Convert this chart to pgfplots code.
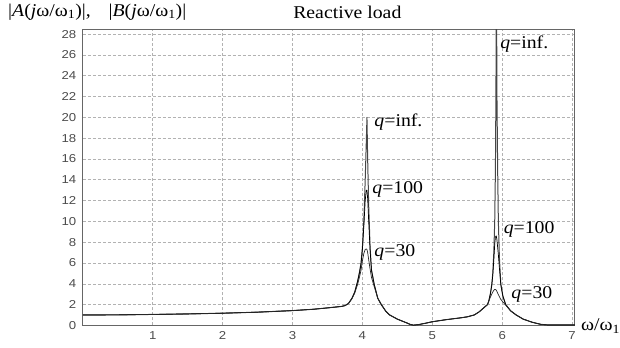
\documentclass[border=0pt]{standalone}
\usepackage{pgfplots}
\pgfplotsset{compat=1.18}
\usetikzlibrary{calc}
\usepackage{fontspec}
\setmainfont{Liberation Serif}[FakeStretch=1.1]
\newfontfamily\ticksf{Liberation Sans}[FakeStretch=1.15]
\begin{document}
\begin{tikzpicture}
\begin{axis}[
 scale only axis, width=493pt, height=296pt,
 xmin=0, xmax=7.04, ymin=0, ymax=28.4,
 xtick={1,2,3,4,5,6,7}, ytick={0,2,...,28},
 grid=major, major grid style={densely dashed, gray!60, line width=0.5pt},
 axis line style={gray!80!black, line width=1pt},
 major tick length=0pt,
 tick label style={font=\ticksf\fontsize{11.5}{12}\selectfont, text=black!70},
 /pgf/number format/assume math mode=true,
 xticklabel style={yshift=-3pt},
 yticklabel style={xshift=-3pt},
 clip mode=individual,
 every axis plot/.append style={line join=round},
]
% q = inf
\addplot[gray!55!black, line width=1pt] coordinates {
(0,1.0) (0.5,1.01) (1.0,1.05) (1.5,1.1) (2.0,1.17) (2.5,1.27) (3.0,1.42) (3.3,1.55)
(3.5,1.68) (3.7,1.82) (3.75,1.9) (3.8,2.1) (3.85,2.6) (3.89,3.2) (3.93,4.2) (3.96,5.2) (3.98,6.0)
(4.00,7.5) (4.02,10) (4.04,14) (4.055,17.5) (4.065,20) (4.075,16) (4.09,11.5)
(4.11,7.5) (4.13,5.3) (4.17,3.9) (4.22,2.6) (4.27,2.0) (4.33,1.4) (4.39,1.0)
(4.5,0.6) (4.63,0.25) (4.68,0.1) (4.73,0.02) (4.8,0.07) (4.9,0.2) (5.0,0.35)
(5.2,0.55) (5.4,0.72) (5.5,0.82) (5.6,1.0) (5.67,1.3) (5.73,1.65) (5.79,2.0)
(5.81,2.4) (5.83,3.0) (5.85,3.9) (5.865,5.0) (5.88,7) (5.893,10) (5.903,15) (5.91,22)
(5.915,30) (5.92,30) (5.925,22) (5.935,15) (5.945,10) (5.96,6.5) (5.98,4.0)
(6.01,2.8) (6.05,2.0) (6.12,1.4) (6.2,1.0) (6.3,0.6) (6.43,0.3) (6.55,0.1)
(6.65,0.04) (6.8,0.04) (7.04,0.04)
};
% q = 100
\addplot[black, line width=0.7pt] coordinates {
(0,1.0) (0.5,1.01) (1.0,1.05) (1.5,1.1) (2.0,1.17) (2.5,1.27) (3.0,1.42) (3.3,1.55)
(3.5,1.68) (3.7,1.82) (3.75,1.9) (3.8,2.1) (3.85,2.6) (3.89,3.2) (3.93,4.2) (3.96,5.1) (3.98,5.9)
(4.00,7.3) (4.02,9.5) (4.04,12) (4.055,13) (4.065,13) (4.075,12.2) (4.09,10)
(4.11,7.2) (4.13,5.3) (4.17,3.9) (4.22,2.6) (4.27,2.0) (4.33,1.4) (4.39,1.0)
(4.5,0.6) (4.63,0.25) (4.68,0.1) (4.73,0.02) (4.8,0.07) (4.9,0.2) (5.0,0.35)
(5.2,0.55) (5.4,0.72) (5.5,0.82) (5.6,1.0) (5.67,1.3) (5.73,1.65) (5.79,2.0)
(5.81,2.4) (5.83,3.0) (5.85,3.8) (5.865,4.8) (5.88,6.3) (5.893,7.8) (5.903,8.5) (5.915,8.6)
(5.925,8.2) (5.935,7.5) (5.945,6.8) (5.96,5.5) (5.98,3.9)
(6.01,2.8) (6.05,2.0) (6.12,1.4) (6.2,1.0) (6.3,0.6) (6.43,0.3) (6.55,0.1)
(6.65,0.04) (6.8,0.04) (7.04,0.04)
};
% q = 30
\addplot[black!85, line width=0.7pt] coordinates {
(0,1.0) (0.5,1.01) (1.0,1.05) (1.5,1.1) (2.0,1.17) (2.5,1.27) (3.0,1.42) (3.3,1.55)
(3.5,1.68) (3.7,1.82) (3.75,1.9) (3.8,2.1) (3.85,2.55) (3.89,3.1) (3.93,3.9) (3.96,4.7) (3.98,5.3)
(4.00,6.2) (4.02,6.9) (4.04,7.3) (4.055,7.35) (4.065,7.3) (4.075,7.0) (4.09,6.3)
(4.11,5.4) (4.13,4.6) (4.17,3.7) (4.22,2.6) (4.27,2.0) (4.33,1.4) (4.39,1.0)
(4.5,0.6) (4.63,0.25) (4.68,0.1) (4.73,0.02) (4.8,0.07) (4.9,0.2) (5.0,0.35)
(5.2,0.55) (5.4,0.72) (5.5,0.82) (5.6,1.0) (5.67,1.3) (5.73,1.65) (5.79,2.0)
(5.81,2.35) (5.83,2.7) (5.85,3.0) (5.865,3.2) (5.88,3.38) (5.893,3.45) (5.903,3.45) (5.915,3.38)
(5.925,3.25) (5.935,3.1) (5.945,2.95) (5.96,2.75) (5.98,2.5)
(6.01,2.25) (6.05,1.95) (6.12,1.4) (6.2,1.0) (6.3,0.6) (6.43,0.3) (6.55,0.1)
(6.65,0.04) (6.8,0.04) (7.04,0.04)
};
\begin{scope}[every node/.style={anchor=west, inner sep=0pt, font=\fontsize{18}{20}\selectfont}]
\node at (axis cs:4.17,19.5) {\textit{q}=inf.};
\node at (axis cs:4.14,13.1) {\textit{q}=100};
\node at (axis cs:4.17,7.0) {\textit{q}=30};
\node at (axis cs:5.97,27.0) {\textit{q}=inf.};
\node at (axis cs:6.02,9.2) {\textit{q}=100};
\node at (axis cs:6.13,3.0) {\textit{q}=30};
\end{scope}
\end{axis}
\begin{scope}[every node/.style={inner sep=0pt, font=\fontsize{18}{20}\selectfont}]
\node[anchor=west] at ($(current axis.north west)+(-75pt,18pt)$)
  {|\textit{A}(\textit{j}ω/ω\textsubscript{1})|,\quad |\textit{B}(\textit{j}ω/ω\textsubscript{1})|};
\node at ($(current axis.north west)+(265pt,18pt)$) {Reactive load};
\node[anchor=west] at ($(current axis.south east)+(6pt,-1pt)$) {ω/ω\textsubscript{1}};
\end{scope}
\path ($(current axis.south west)+(-83pt,-22pt)$) rectangle ($(current axis.north east)+(44pt,30pt)$);
\end{tikzpicture}
\end{document}
